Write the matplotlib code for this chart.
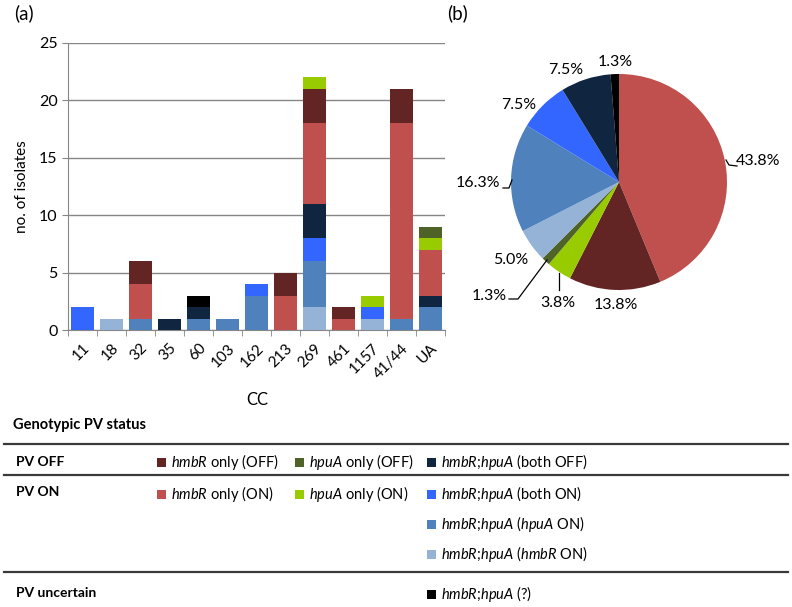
from decimal import Decimal, ROUND_HALF_UP
import numpy as np
import matplotlib.pyplot as plt
from matplotlib.patches import Rectangle

plt.rcParams['font.family'] = ['Lato', 'DejaVu Sans']
plt.rcParams['mathtext.fontset'] = 'custom'
plt.rcParams['mathtext.rm'] = 'Lato'
plt.rcParams['mathtext.it'] = 'Lato:italic'

# clonal complexes
categories = ['11', '18', '32', '35', '60', '103', '162', '213', '269', '461', '1157', '41/44', 'UA']

# counts per genotype, stacked bottom -> top
hmbr_on_both = [0, 1, 0, 0, 0, 0, 0, 0, 2, 0, 1, 0, 0]   # hmbR;hpuA (hmbR ON)
hpua_on_both = [0, 0, 1, 0, 1, 1, 3, 0, 4, 0, 0, 1, 2]   # hmbR;hpuA (hpuA ON)
both_on = [2, 0, 0, 0, 0, 0, 1, 0, 2, 0, 1, 0, 0]
both_off = [0, 0, 0, 1, 1, 0, 0, 0, 3, 0, 0, 0, 1]
uncertain = [0, 0, 0, 0, 1, 0, 0, 0, 0, 0, 0, 0, 0]
hmbr_only_on = [0, 0, 3, 0, 0, 0, 0, 3, 7, 1, 0, 17, 4]
hmbr_only_off = [0, 0, 2, 0, 0, 0, 0, 2, 3, 1, 0, 3, 0]
hpua_only_on = [0, 0, 0, 0, 0, 0, 0, 0, 1, 0, 1, 0, 1]
hpua_only_off = [0, 0, 0, 0, 0, 0, 0, 0, 0, 0, 0, 0, 1]

C_RED = '#C0504D'
C_DRED = '#632523'
C_LIME = '#99CC00'
C_OLIVE = '#4F6228'
C_NAVY = '#10253F'
C_BLUE = '#3366FF'
C_STEEL = '#4F81BD'
C_LIGHT = '#95B3D7'
C_BLACK = '#000000'

stack = [(hmbr_on_both, C_LIGHT), (hpua_on_both, C_STEEL), (both_on, C_BLUE),
         (both_off, C_NAVY), (uncertain, C_BLACK), (hmbr_only_on, C_RED),
         (hmbr_only_off, C_DRED), (hpua_only_on, C_LIME), (hpua_only_off, C_OLIVE)]

W, H = 792, 607
fig = plt.figure(figsize=(W / 100, H / 100), dpi=100)

# ---- (a) stacked bars
ax = fig.add_axes([68 / W, 1 - 330 / H, (445 - 68) / W, (330 - 43) / H])
x = np.arange(len(categories))
bottom = np.zeros(len(categories))
for vals, col in stack:
    ax.bar(x, vals, width=0.82, bottom=bottom, color=col, linewidth=0, zorder=3)
    bottom += np.array(vals)

ax.set_xlim(-0.5, len(categories) - 0.5)
ax.set_ylim(0, 25)
ax.set_yticks(range(0, 26, 5))
ax.yaxis.grid(True, color='#868686', linewidth=1)
ax.set_axisbelow(True)
for s in ['top', 'right']:
    ax.spines[s].set_visible(False)
ax.spines['left'].set_color('#868686')
ax.spines['bottom'].set_color('#868686')
ax.tick_params(axis='y', colors='#868686', labelcolor='black', labelsize=11.5, length=4)
ax.set_xticks(x)
ax.set_xticklabels(categories, rotation=45, ha='right', rotation_mode='anchor', fontsize=11)
ax.tick_params(axis='x', length=0, pad=8)
ax.set_xticks(np.arange(-0.5, len(categories), 1), minor=True)
ax.tick_params(axis='x', which='minor', length=4, color='#868686')
ax.set_ylabel('no. of isolates', fontsize=11, labelpad=7)
fig.text(257 / W, 1 - 400 / H, 'CC', fontsize=12, ha='center', va='center')
fig.text(14 / W, 1 - 13 / H, '(a)', fontsize=13.5, ha='left', va='center')
fig.text(447 / W, 1 - 13 / H, '(b)', fontsize=13.5, ha='left', va='center')

# ---- (b) pie of totals
pie_vals = [sum(hmbr_only_on), sum(hmbr_only_off), sum(hpua_only_on), sum(hpua_only_off),
            sum(hmbr_on_both), sum(hpua_on_both), sum(both_on), sum(both_off), sum(uncertain)]
pie_cols = [C_RED, C_DRED, C_LIME, C_OLIVE, C_LIGHT, C_STEEL, C_BLUE, C_NAVY, C_BLACK]
cx, cy, R = 619, 182, 108
side = 3.2 * R
pax = fig.add_axes([(cx - side / 2) / W, 1 - (cy + side / 2) / H, side / W, side / H])
pax.pie(pie_vals, colors=pie_cols, startangle=90, counterclock=False,
        wedgeprops=dict(linewidth=0), radius=1)
pax.set_xlim(-1.6, 1.6)
pax.set_ylim(-1.6, 1.6)
pax.set_aspect('equal')
pax.axis('off')

def to_pie(px, py):
    return (px - cx) / R, (cy - py) / R

def pct(v, tot):
    # excel style half-up rounding
    d = Decimal(100 * v) / Decimal(tot)
    return str(d.quantize(Decimal('0.1'), rounding=ROUND_HALF_UP)) + '%'

total = sum(pie_vals)
label_pos = [(758, 161), (616, 305), (558, 303), (489, 296), (511, 260),
             (478, 183), (519, 105), (566, 70), (615, 62)]
for v, (lx, ly) in zip(pie_vals, label_pos):
    tx, ty = to_pie(lx, ly)
    pax.text(tx, ty, pct(v, total), ha='center', va='center', fontsize=11.5)

leaders = [[(726, 160), (729, 165), (737, 166)],
           [(503, 188), (509, 188), (512, 180)],
           [(559, 273), (559, 290)],
           [(547, 260), (518, 299), (509, 299)]]
for pts in leaders:
    xs, ys = zip(*[to_pie(*p) for p in pts])
    pax.plot(xs, ys, color='black', linewidth=0.9)

# ---- status table
tab = fig.add_axes([0, 0, 1, 1], zorder=-1)
tab.set_xlim(0, W)
tab.set_ylim(H, 0)
tab.axis('off')

tab.text(13, 425, 'Genotypic PV status', fontsize=10.5, fontweight='bold', va='center')
for yl in [444, 475, 572]:
    tab.plot([4, 788], [yl, yl], color='#3a3a3a', linewidth=1.6)
for lbl, yy in [('PV OFF', 462), ('PV ON', 492), ('PV uncertain', 593)]:
    tab.text(16, yy, lbl, fontsize=10, fontweight='bold', va='center')

both = r'$\mathit{hmbR}$;$\mathit{hpuA}$'
legend_items = [
    (157, 462, C_DRED, r'$\mathit{hmbR}$ only (OFF)'),
    (295, 462, C_OLIVE, r'$\mathit{hpuA}$ only (OFF)'),
    (427, 462, C_NAVY, both + ' (both OFF)'),
    (157, 494, C_RED, r'$\mathit{hmbR}$ only (ON)'),
    (295, 494, C_LIME, r'$\mathit{hpuA}$ only (ON)'),
    (427, 494, C_BLUE, both + ' (both ON)'),
    (427, 524, C_STEEL, both + r' ($\mathit{hpuA}$ ON)'),
    (427, 554, C_LIGHT, both + r' ($\mathit{hmbR}$ ON)'),
    (427, 594, C_BLACK, both + ' (?)'),
]
for sx, sy, col, txt in legend_items:
    tab.add_patch(Rectangle((sx, sy - 4.5), 9, 9, color=col, linewidth=0))
    tab.text(sx + 14, sy, txt, fontsize=10.5, va='center')

fig.savefig('out.png', dpi=100)
